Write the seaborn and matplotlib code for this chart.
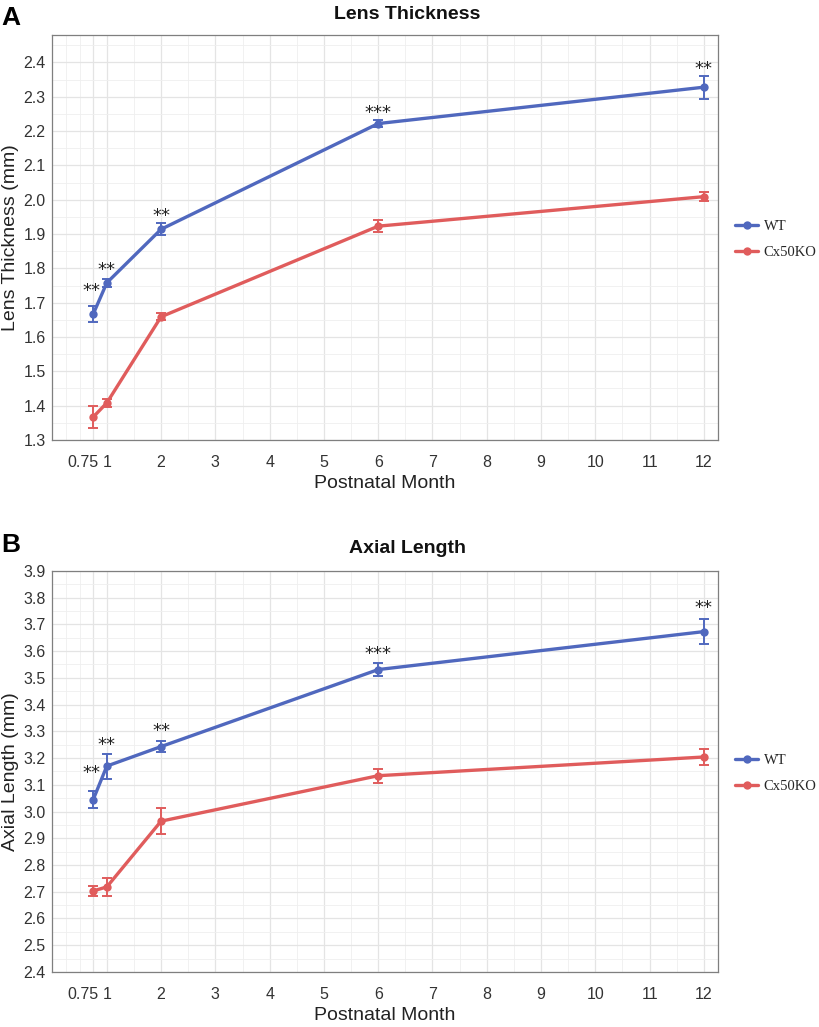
"""Lens thickness and axial length of WT vs Cx50KO mice by postnatal month."""

import matplotlib

matplotlib.use("Agg")

import matplotlib.pyplot as plt
import matplotlib.transforms as mtransforms
import numpy as np
import pandas as pd
import seaborn as sns

months = [0.75, 1, 2, 6, 12]
groups = ["WT", "Cx50KO"]

lens_wt = [1.667, 1.758, 1.914, 2.222, 2.328]
lens_wt_err = [0.023, 0.012, 0.018, 0.009, 0.033]
lens_ko = [1.367, 1.408, 1.659, 1.923, 2.009]
lens_ko_err = [0.032, 0.012, 0.010, 0.017, 0.013]
lens_stars = ["**", "**", "**", "***", "**"]
lens_star_y = [1.735, 1.795, 1.953, 2.252, 2.382]

axial_wt = [3.045, 3.170, 3.243, 3.531, 3.673]
axial_wt_err = [0.030, 0.047, 0.019, 0.024, 0.046]
axial_ko = [2.703, 2.718, 2.964, 3.134, 3.204]
axial_ko_err = [0.020, 0.033, 0.049, 0.026, 0.030]
axial_stars = ["**", "**", "**", "***", "**"]
axial_star_y = [3.144, 3.247, 3.300, 3.590, 3.762]

x_ticks = [0.75] + list(range(1, 13))
x_minor = [0.25, 0.5] + [i + 0.5 for i in range(1, 12)]

palette = {"WT": "#5068BE", "Cx50KO": "#E05C5C"}


def make_frame(wt, wt_err, ko, ko_err):
    return pd.DataFrame(
        {
            "month": months * 2,
            "value": wt + ko,
            "err": wt_err + ko_err,
            "group": ["WT"] * len(months) + ["Cx50KO"] * len(months),
        }
    )


def draw_panel(ax, df, ylim, yticks, ylabel, stars, star_y):
    sns.lineplot(
        data=df, x="month", y="value", hue="group", hue_order=groups,
        palette=palette, marker="o", markersize=6, markeredgewidth=0,
        linewidth=2.4, ax=ax, zorder=3,
    )
    for g in groups:
        sub = df[df["group"] == g]
        ax.errorbar(
            sub["month"], sub["value"], yerr=sub["err"], fmt="none",
            ecolor=palette[g], elinewidth=1.4, capsize=3.5, capthick=1.4, zorder=4,
        )
    wt = df[df["group"] == "WT"]
    for x, s, y in zip(wt["month"], stars, star_y):
        dx = -0.03 if x == 0.75 else 0
        ax.text(x + dx, y, s, ha="center", va="center", fontsize=13,
                color="#222222", family="DejaVu Sans")

    ax.set_xlim(-0.01, 12.26)
    ax.set_ylim(*ylim)
    ax.set_xticks(x_ticks)
    ax.set_xticklabels(["0.75"] + [str(i) for i in range(1, 13)])
    ax.set_xticks(x_minor, minor=True)
    ax.set_yticks(yticks)
    ax.set_yticklabels([f"{v:.1f}" for v in yticks])
    minor_y = list(np.array(yticks[:-1]) + 0.05)
    if ylim[1] - yticks[-1] > 0.05:
        minor_y.append(yticks[-1] + 0.05)
    ax.set_yticks(minor_y, minor=True)

    ax.grid(which="major", color="#E4E4E4", linewidth=0.9)
    ax.grid(which="minor", color="#EFEFEF", linewidth=0.6)
    ax.set_axisbelow(True)
    ax.tick_params(which="major", length=2.5, width=0.8, color="#333333",
                   labelsize=11.5, labelcolor="#333333")
    ax.tick_params(axis="x", which="major", pad=8)
    ax.tick_params(axis="y", which="major", pad=2)
    ax.tick_params(which="minor", length=0)
    # the first month label sits left of its tick so it clears "1"
    first = ax.get_xticklabels()[0]
    first.set_horizontalalignment("right")
    first.set_transform(first.get_transform() + mtransforms.ScaledTranslation(
        4 / 72, 0, ax.figure.dpi_scale_trans))
    for sp in ax.spines.values():
        sp.set_color("#7F7F7F")
        sp.set_linewidth(0.9)

    ax.set_xlabel("Postnatal Month", fontsize=14, color="#222222", labelpad=4)
    ax.set_ylabel(ylabel, fontsize=14, color="#222222", labelpad=3)

    handles, labels = ax.get_legend_handles_labels()
    ax.legend(
        handles, labels, loc="center left", bbox_to_anchor=(1.006, 0.495),
        frameon=False, prop={"family": "Liberation Serif", "size": 10.5},
        handlelength=1.6, handletextpad=0.35, labelspacing=0.9,
    )


sns.set_theme(style="whitegrid")
plt.rcParams["font.family"] = ["Liberation Sans", "DejaVu Sans"]

fig = plt.figure(figsize=(8.2, 10.27), dpi=100)
ax_top = fig.add_axes([0.0634, 0.5716, 0.8122, 0.3943])
ax_bot = fig.add_axes([0.0634, 0.0536, 0.8122, 0.3905])

lens_df = make_frame(lens_wt, lens_wt_err, lens_ko, lens_ko_err)
axial_df = make_frame(axial_wt, axial_wt_err, axial_ko, axial_ko_err)

draw_panel(ax_top, lens_df, (1.3, 2.48), [round(1.3 + 0.1 * i, 1) for i in range(12)],
           "Lens Thickness (mm)", lens_stars, lens_star_y)
draw_panel(ax_bot, axial_df, (2.4, 3.9), [round(2.4 + 0.1 * i, 1) for i in range(16)],
           "Axial Length (mm)", axial_stars, axial_star_y)

fig.text(0.497, 0.986, "Lens Thickness", ha="center", va="center",
         fontsize=14, fontweight="bold", color="#111111")
fig.text(0.497, 0.466, "Axial Length", ha="center", va="center",
         fontsize=14, fontweight="bold", color="#111111")
fig.text(0.002, 0.982, "A", ha="left", va="center", fontsize=19, fontweight="bold",
         color="#000000")
fig.text(0.002, 0.469, "B", ha="left", va="center", fontsize=19, fontweight="bold",
         color="#000000")

fig.savefig("out.png", dpi=100)
plt.close(fig)
